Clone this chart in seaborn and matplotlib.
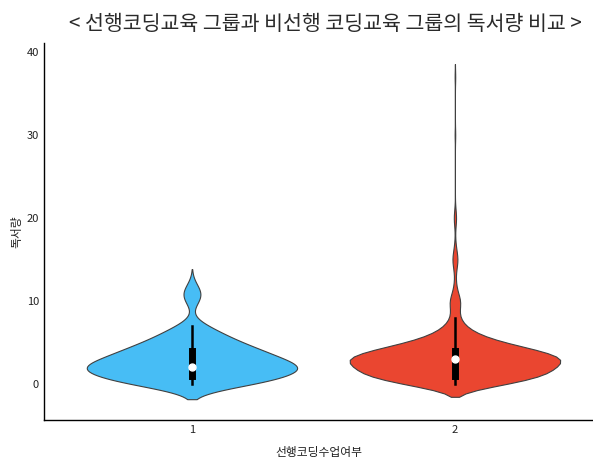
import numpy as np
import pandas as pd
import matplotlib
matplotlib.use("Agg")
import matplotlib.pyplot as plt
import seaborn as sns

# 독서량 frequency tables (books read -> number of students)
group_labels = [1, 2]

pre_values = [0, 1, 2, 3, 4, 5, 6, 7, 10, 11, 12]
pre_counts = [18, 24, 30, 22, 18, 12, 8, 4, 2, 3, 1]

non_values = [0, 1, 2, 3, 4, 5, 6, 7, 8, 9, 10, 11, 12, 13, 14, 15, 16, 17, 19, 20, 21, 30, 37]
non_counts = [100, 170, 180, 210, 160, 85, 40, 18, 8, 8, 12, 5, 2, 1, 3, 6, 3, 1, 1, 3, 1, 1, 1]

palette = ["#47bdf5", "#ea4630"]

df = pd.DataFrame({
    "선행코딩수업여부": np.concatenate([
        np.repeat(group_labels[0], sum(pre_counts)),
        np.repeat(group_labels[1], sum(non_counts)),
    ]),
    "독서량": np.concatenate([
        np.repeat(pre_values, pre_counts),
        np.repeat(non_values, non_counts),
    ]).astype(float),
})

sns.set_style("white")
plt.rcParams["font.family"] = ["Noto Sans CJK KR", "DejaVu Sans"]

fig = plt.figure(figsize=(5.93, 4.61), dpi=100)
ax = fig.add_axes([0.074, 0.089, 0.926, 0.818])

sns.violinplot(
    data=df, x="선행코딩수업여부", y="독서량",
    hue="선행코딩수업여부", palette=palette, legend=False,
    order=group_labels, density_norm="width", inner="box",
    linewidth=0.8, linecolor="#404040", saturation=1,
    inner_kws=dict(box_width=5, whis_width=1.8, color="black", marker="o",
                   markersize=5, solid_capstyle="projecting"),
    ax=ax,
)

ax.set_ylim(-4.34, 41.1)
ax.set_xlim(-0.563, 1.525)
ax.set_yticks([0, 10, 20, 30, 40])
ax.tick_params(axis="both", direction="in", length=4, width=0.8,
               labelsize=8, colors="#222222")
for s in ["top", "right"]:
    ax.spines[s].set_visible(False)
for s in ["left", "bottom"]:
    ax.spines[s].set_color("black")
    ax.spines[s].set_linewidth(1.0)

ax.set_xlabel("선행코딩수업여부", fontsize=8.5, labelpad=8, color="#222222")
ax.set_ylabel("독서량", fontsize=8.5, labelpad=2, color="#222222")
ax.set_title("< 선행코딩교육 그룹과 비선행 코딩교육 그룹의 독서량 비교 >",
             fontsize=14.8, pad=9, color="#2a2a2a", fontweight="light", x=0.512)

fig.savefig("out.png", dpi=100)
